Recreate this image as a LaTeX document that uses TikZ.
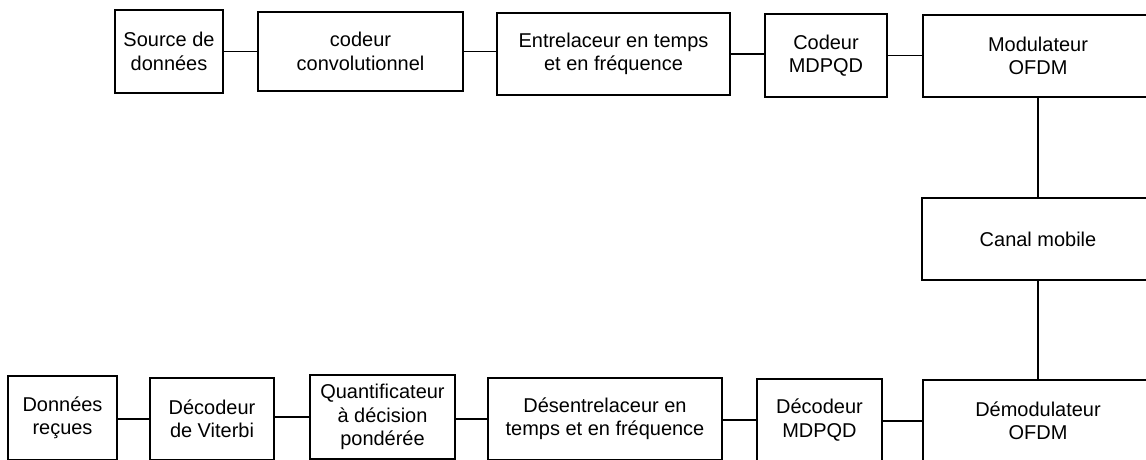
\documentclass[tikz,border=0pt]{standalone}
\usepackage{fontspec}
\setmainfont{Liberation Sans}
\usepackage{tikz}
\usetikzlibrary{positioning, calc}

\begin{document}
\begin{tikzpicture}[x=0.025cm, y=-0.025cm,
    blk/.style={draw, line width=1.6pt, align=center, inner sep=0pt,
        font=\fontsize{14.2}{16.6}\selectfont},
    wire/.style={line width=1.2pt}]
    \useasboundingbox (0,0) rectangle (1146,460);
    \node[blk, minimum width=2.7cm, minimum height=2.075cm] (src) at (169,51.5) {Source de\\données};
    \node[blk, minimum width=5.125cm, minimum height=1.975cm] (conv) at (360.5,51.5) {codeur\\convolutionnel};
    \node[blk, minimum width=5.825cm, minimum height=2.05cm] (entr) at (613.5,54) {Entrelaceur en temps\\et en fréquence};
    \node[blk, minimum width=3.05cm, minimum height=2.075cm] (cod) at (826,55.5) {Codeur\\MDPQD};
    \node[blk, minimum width=5.75cm, minimum height=2.05cm] (mod) at (1038,56) {Modulateur\\OFDM};
    \node[blk, minimum width=5.8cm, minimum height=2.05cm] (canal) at (1038,239) {Canal mobile};
    \node[blk, minimum width=5.75cm, minimum height=2.05cm] (demod) at (1038,421) {Démodulateur\\OFDM};
    \node[blk, minimum width=3.125cm, minimum height=2.05cm] (dec) at (819.5,420) {Décodeur\\MDPQD};
    \node[blk, minimum width=5.85cm, minimum height=2.05cm] (desentr) at (605,419) {Désentrelaceur en\\temps et en fréquence};
    \node[blk, minimum width=3.625cm, minimum height=2.1cm] (quant) at (382.5,417) {Quantificateur\\à décision\\pondérée};
    \node[blk, minimum width=3.1cm, minimum height=2.05cm] (vit) at (212,419) {Décodeur\\de Viterbi};
    \node[blk, minimum width=2.725cm, minimum height=2.1cm] (rec) at (62.5,418) {Données\\reçues};
    \draw[wire] (src.east) -- (src.east -| conv.west);
    \draw[wire] (conv.east) -- (conv.east -| entr.west);
    \draw[wire] (entr.east) -- (entr.east -| cod.west);
    \draw[wire] (cod.east) -- (cod.east -| mod.west);
    \draw[wire] (mod.south) -- (canal.north);
    \draw[wire] (canal.south) -- (demod.north);
    \draw[wire] (demod.west) -- (demod.west -| dec.east);
    \draw[wire] (dec.west) -- (dec.west -| desentr.east);
    \draw[wire] (desentr.west) -- (desentr.west -| quant.east);
    \draw[wire] (quant.west) -- (quant.west -| vit.east);
    \draw[wire] (vit.west) -- (vit.west -| rec.east);
\end{tikzpicture}
\end{document}
